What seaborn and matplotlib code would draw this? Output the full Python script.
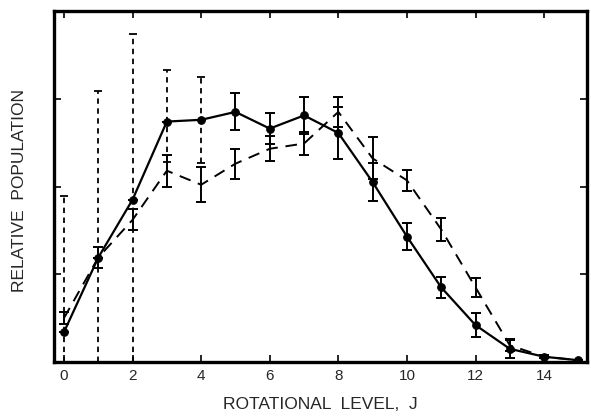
import numpy as np
import pandas as pd
import matplotlib
matplotlib.use("Agg")
import matplotlib.pyplot as plt
import seaborn as sns

# Rotational levels
J = list(range(16))

# Solid series (filled circles)
solid_y = [0.34, 1.19, 1.85, 2.74, 2.76, 2.85, 2.66, 2.81, 2.61, 2.05, 1.43, 0.85, 0.42, 0.15, 0.06, 0.02]
solid_err = [0, 0, 0, 0, 0, 0.21, 0.18, 0.21, 0.30, 0.22, 0.15, 0.12, 0.14, 0.10, 0.02, 0.0]

# Large dashed uncertainty bars on the low-J solid points (upper / lower limits)
big_J = [0, 1, 2, 3, 4]
big_top = [1.89, 3.09, 3.74, 3.33, 3.25]
big_bot = [0.0, 0.0, 0.0, 2.28, 2.27]

# Dashed series
dashed_y = [0.50, 1.19, 1.62, 2.18, 2.02, 2.26, 2.43, 2.49, 2.85, 2.32, 2.07, 1.51, 0.85, 0.19, 0.06, 0.02]
dashed_err = [0.07, 0.12, 0.12, 0.18, 0.20, 0.17, 0.14, 0.13, 0.17, 0.24, 0.12, 0.13, 0.11, 0.07, 0.02, 0.0]

xticks = [0, 2, 4, 6, 8, 10, 12, 14]
yticks = [1, 2, 3]

sns.set_theme(style="ticks")
plt.rcParams['font.family'] = ['Liberation Sans', 'DejaVu Sans']

fig = plt.figure(figsize=(5.91, 4.16), dpi=100)
ax = fig.add_axes([54/591, 54/416, (587-54)/591, (362-11)/416])

df = pd.DataFrame({"J": J + J,
                   "pop": solid_y + dashed_y,
                   "series": ["solid"] * 16 + ["dashed"] * 16})

sns.lineplot(data=df[df.series == "solid"], x="J", y="pop", ax=ax,
             color="black", lw=1.6, marker="o", markersize=5.5,
             markeredgecolor="black", legend=False)
sns.lineplot(data=df[df.series == "dashed"], x="J", y="pop", ax=ax,
             color="black", lw=1.4, legend=False)
ax.lines[-1].set_dashes((6, 4))

# error bars
ax.errorbar(J, solid_y, yerr=solid_err, fmt="none", ecolor="black",
            elinewidth=1.4, capsize=3.5, capthick=1.4)
ax.errorbar(J, dashed_y, yerr=dashed_err, fmt="none", ecolor="black",
            elinewidth=1.4, capsize=3.5, capthick=1.4)

big_mid = [solid_y[j] for j in big_J]
lower = [m - b for m, b in zip(big_mid, big_bot)]
upper = [t - m for m, t in zip(big_mid, big_top)]
eb = ax.errorbar(big_J, big_mid, yerr=[lower, upper], fmt="none",
                 ecolor="black", elinewidth=1.3, capsize=3, capthick=1.3)
eb[2][0].set_linestyle((0, (3, 2.5)))

ax.set_xlim(-0.29, 15.25)
ax.set_ylim(0, 4)
ax.set_xticks(xticks)
ax.set_xticklabels([str(t) for t in xticks], fontsize=11)
ax.set_yticks(yticks)
ax.set_yticklabels([])
ax.tick_params(direction="in", length=5, width=1.2, top=True, right=True,
               pad=5, color="black")
for s in ax.spines.values():
    s.set_linewidth(2.4)
    s.set_color("black")

ax.set_xlabel("ROTATIONAL  LEVEL,  J", fontsize=12.5)
ax.xaxis.set_label_coords(0.5, -0.1)
ax.set_ylabel("RELATIVE  POPULATION", fontsize=12.5)
ax.yaxis.set_label_coords(-0.05, 0.49)

fig.savefig("out.png", dpi=100)
